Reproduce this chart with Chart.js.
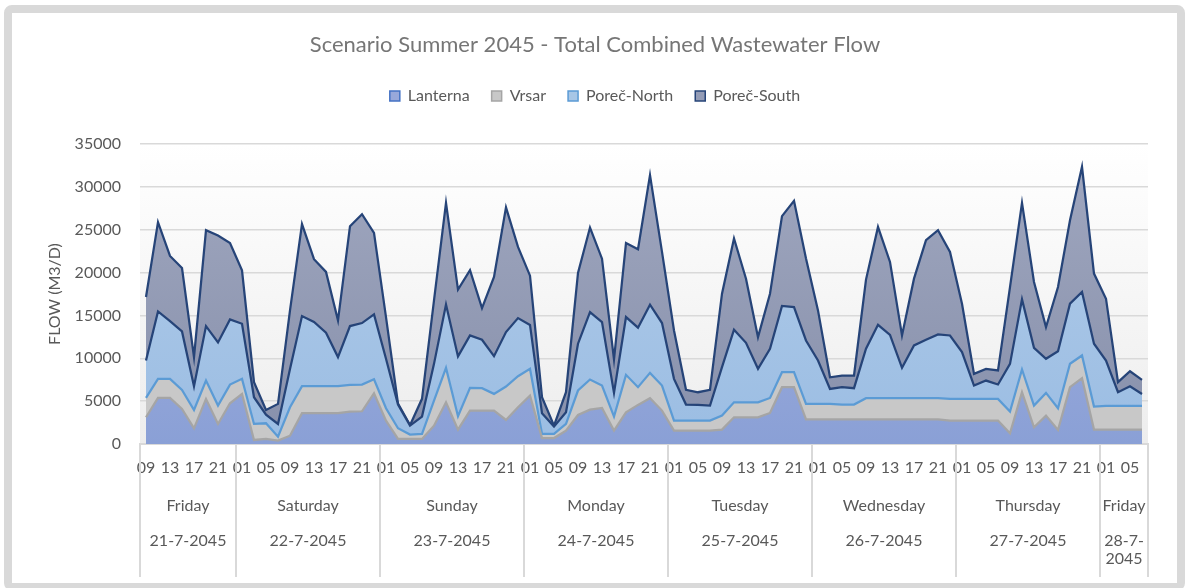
<!DOCTYPE html>
<html>
<head>
<meta charset="utf-8">
<title>Scenario Summer 2045 - Total Combined Wastewater Flow</title>
<script src="https://cdn.jsdelivr.net/npm/chart.js@4.4.1/dist/chart.umd.min.js"></script>
<style>
  html, body { margin: 0; padding: 0; background: #fff; overflow: hidden; }
  #frame { position: absolute; left: 4px; top: 5px; width: 1181px; height: 586px; box-sizing: border-box; border: 8px solid #d9d9d9; border-radius: 8px; }
  #flowChart { position: absolute; left: 0; top: 0; }
</style>
</head>
<body>
<div id="frame"></div>
<canvas id="flowChart" width="1190" height="588"></canvas>
<script>
// hour of each 2-hourly value, Friday 21-7 09:00 .. Friday 28-7 07:00
const hours = [
  '09','11','13','15','17','19','21','23',
  '01','03','05','07','09','11','13','15','17','19','21','23',
  '01','03','05','07','09','11','13','15','17','19','21','23',
  '01','03','05','07','09','11','13','15','17','19','21','23',
  '01','03','05','07','09','11','13','15','17','19','21','23',
  '01','03','05','07','09','11','13','15','17','19','21','23',
  '01','03','05','07','09','11','13','15','17','19','21','23',
  '01','03','05','07'
];

// day groups below the hours
const dayNames = ['Friday', 'Saturday', 'Sunday', 'Monday', 'Tuesday', 'Wednesday', 'Thursday', 'Friday'];
const dayDates = ['21-7-2045', '22-7-2045', '23-7-2045', '24-7-2045', '25-7-2045', '26-7-2045', '27-7-2045', '28-7-2045'];
const dayCounts = [8, 12, 12, 12, 12, 12, 12, 4];

// flows in m3/d (stacked)
const lanterna = [
  3120, 5380, 5380, 4090, 1830, 5260, 2340, 4750,
  5850, 470, 590, 390, 970, 3590, 3590, 3590, 3590, 3780, 3820, 5920,
  2730, 590, 590, 590, 2140, 4870, 1680, 3900, 3900, 3900, 2810, 4290,
  5650, 700, 700, 1560, 3390, 4010, 4210, 1560, 3700, 4560, 5340, 3900,
  1560, 1560, 1560, 1560, 1680, 3120, 3120, 3120, 3620, 6630, 6630, 2880,
  2880, 2880, 2880, 2880, 2880, 2880, 2880, 2880, 2880, 2880, 2880, 2730,
  2730, 2730, 2730, 2730, 1250, 6040, 1950, 3310, 1640, 6630, 7680, 1680,
  1680, 1680, 1680, 1680
];
const vrsar = [
  2260, 2220, 2220, 2220, 2140, 2140, 2140, 2180,
  1750, 1870, 1830, 470, 3310, 3160, 3160, 3160, 3160, 3120, 3120, 1640,
  1440, 1250, 510, 580, 2920, 4010, 1560, 2650, 2610, 1950, 3900, 3620,
  3120, 470, 470, 780, 2850, 3510, 2610, 1640, 4370, 2070, 2960, 2920,
  1170, 1170, 1170, 1170, 1640, 1750, 1750, 1750, 1750, 1750, 1750, 1790,
  1790, 1790, 1720, 1720, 2460, 2460, 2460, 2460, 2460, 2460, 2460, 2530,
  2530, 2530, 2530, 2530, 2530, 2650, 2530, 2650, 2530, 2730, 2650, 2690,
  2760, 2760, 2760, 2760
];
const porecNorth = [
  4370, 7870, 6740, 6820, 2770, 6350, 7370, 7600,
  6430, 3120, 1010, 1480, 4480, 8180, 7480, 6240, 3390, 6860, 7170, 7560,
  5770, 2770, 1050, 2030, 4290, 7400, 6980, 6120, 5650, 4400, 6350, 6780,
  5120, 2420, 860, 1360, 5460, 7870, 7400, 2770, 6740, 6940, 7950, 7290,
  4870, 1870, 1830, 1750, 5650, 8460, 6940, 3900, 5730, 7720, 7600, 7410,
  5070, 1750, 2030, 1910, 5770, 8570, 7400, 3550, 6160, 6820, 7440, 7400,
  5460, 1560, 2140, 1680, 5570, 8180, 6740, 3980, 6660, 7010, 7400, 7330,
  5300, 1600, 2300, 1400
];
const porecSouth = [
  7400, 10410, 7600, 7400, 3390, 11190, 12470, 8920,
  6240, 1750, 550, 2340, 6820, 10720, 7330, 7090, 4290, 11650, 12700, 9510,
  4870, 100, 50, 2070, 7400, 11850, 7790, 7600, 3700, 9240, 14540, 8300,
  5750, 1870, 120, 2340, 8260, 9860, 7400, 3900, 8650, 9160, 15120, 8300,
  5650, 1720, 1480, 1830, 8570, 10640, 7480, 3700, 6430, 10480, 12390, 9550,
  5850, 1360, 1360, 1480, 8070, 11420, 8500, 3780, 7790, 11610, 12160, 9740,
  5650, 1360, 1360, 1640, 8960, 11260, 7680, 3700, 7480, 9740, 14610, 8180,
  7210, 1170, 1750, 1640
];

const FONT = 'Lato, "Open Sans", sans-serif';
const TXT = '#595959';
const GRID = '#d9d9d9';

// vertical gradient helper for area fills
const grad = (top, bottom) => (c) => {
  const a = c.chart.chartArea;
  if (!a) return bottom;
  const g = c.chart.ctx.createLinearGradient(0, a.top, 0, a.bottom);
  g.addColorStop(0, top);
  g.addColorStop(1, bottom);
  return g;
};

const series = [
  { label: 'Lanterna', data: lanterna, fill: grad('#aab1de', '#8aa0d6'), swatch: '#98a8da', line: '#a5a5a5', key: '#4472c4' },
  { label: 'Vrsar', data: vrsar, fill: '#c8c8c8', swatch: '#c8c8c8', line: '#5b9bd5', key: '#a5a5a5' },
  { label: 'Poreč-North', data: porecNorth, fill: grad('#b3cde9', '#9bbde3'), swatch: '#a7c6e6', line: '#264478', key: '#5b9bd5' },
  { label: 'Poreč-South', data: porecSouth, fill: grad('#a1a8c0', '#8790ab'), swatch: '#949cb6', line: '#264478', key: '#264478' }
];

// plot background, white at the top fading to light grey
const plotBackground = {
  id: 'plotBackground',
  beforeDraw(chart) {
    const a = chart.chartArea, ctx = chart.ctx;
    const g = ctx.createLinearGradient(0, a.top, 0, a.bottom);
    g.addColorStop(0, '#ffffff');
    g.addColorStop(1, '#ededed');
    ctx.save();
    ctx.fillStyle = g;
    ctx.fillRect(a.left, a.top, a.right - a.left, a.bottom - a.top);
    ctx.restore();
  }
};

// separators between the day groups
const dayDividers = {
  id: 'dayDividers',
  afterDraw(chart) {
    const x = chart.scales.x, ctx = chart.ctx;
    let edge = -0.5;
    const edges = [edge];
    dayCounts.forEach(c => { edge += c; edges.push(edge); });
    ctx.save();
    ctx.strokeStyle = GRID;
    ctx.lineWidth = 2;
    edges.forEach(e => {
      const px = Math.round(x.getPixelForValue(e));
      ctx.beginPath();
      ctx.moveTo(px, x.top);
      ctx.lineTo(px, chart.scales.x2.bottom - 11);
      ctx.stroke();
    });
    ctx.restore();
  }
};

new Chart(document.getElementById('flowChart'), {
  type: 'line',
  data: {
    labels: hours,
    datasets: series.map((s, i) => ({
      label: s.label,
      data: s.data,
      xAxisID: 'x',
      backgroundColor: s.fill,
      borderColor: s.line,
      borderWidth: 2.25,
      pointRadius: 0,
      tension: 0,
      fill: i === 0 ? 'origin' : '-1'
    }))
  },
  options: {
    responsive: false,
    animation: false,
    events: [],
    layout: { padding: { left: 42, right: 42, top: 0, bottom: 0 } },
    plugins: {
      title: {
        display: true,
        text: 'Scenario Summer 2045 - Total Combined Wastewater Flow',
        color: '#767676',
        font: { family: FONT, size: 22, weight: 'normal' },
        padding: { top: 32, bottom: 7.6 }
      },
      legend: {
        display: true,
        position: 'top',
        labels: {
          color: TXT,
          font: { family: FONT, size: 16 },
          boxWidth: 10,
          boxHeight: 10,
          padding: 22,
          generateLabels: () => series.map((s, i) => ({
            text: s.label,
            fillStyle: s.swatch,
            strokeStyle: s.key,
            fontColor: TXT,
            lineWidth: 1.5,
            datasetIndex: i,
            hidden: false
          }))
        }
      },
      tooltip: { enabled: false }
    },
    scales: {
      x: {
        type: 'category',
        offset: true,
        grid: { display: false, drawTicks: false },
        border: { display: true, color: GRID, width: 2 },
        ticks: {
          autoSkip: false,
          maxRotation: 0,
          minRotation: 0,
          padding: 14,
          color: TXT,
          font: { family: FONT, size: 16 },
          callback: (v, i) => (i % 2 === 0 ? hours[i] : '')
        },
        afterFit: (s) => { s.height = 34; }
      },
      x2: {
        type: 'linear',
        position: 'bottom',
        min: -0.5,
        max: hours.length - 0.5,
        grid: { display: false, drawTicks: false },
        border: { display: false },
        afterBuildTicks: (s) => {
          let start = 0;
          s.ticks = dayCounts.map(c => {
            const t = { value: start + (c - 1) / 2 };
            start += c;
            return t;
          });
        },
        ticks: {
          autoSkip: false,
          maxRotation: 0,
          minRotation: 0,
          padding: 19,
          color: TXT,
          font: { family: FONT, size: 16, lineHeight: 1.1 },
          callback: (v, i) => {
            const date = dayCounts[i] < 6 ? [dayDates[i].slice(0, 5), dayDates[i].slice(5)] : [dayDates[i]];
            return [dayNames[i], ''].concat(date);
          }
        },
        afterFit: (s) => { s.height = 110; }
      },
      gap: {
        type: 'linear',
        position: 'top',
        grid: { display: false, drawTicks: false },
        border: { display: false },
        ticks: { display: false },
        afterFit: (s) => { s.height = 30; }
      },
      y: {
        stacked: true,
        min: 0,
        max: 35000,
        grid: { color: GRID, lineWidth: 1.5, drawTicks: false },
        border: { display: false },
        ticks: {
          stepSize: 5000,
          padding: 19,
          color: TXT,
          font: { family: FONT, size: 16 },
          callback: (v) => String(v)
        },
        title: {
          display: true,
          text: 'FLOW (M3/D)',
          color: TXT,
          font: { family: FONT, size: 16 },
          padding: { top: 3.4, bottom: 0 }
        },
        afterFit: (s) => { s.width = 98; }
      }
    }
  },
  plugins: [plotBackground, dayDividers]
});
</script>
</body>
</html>
